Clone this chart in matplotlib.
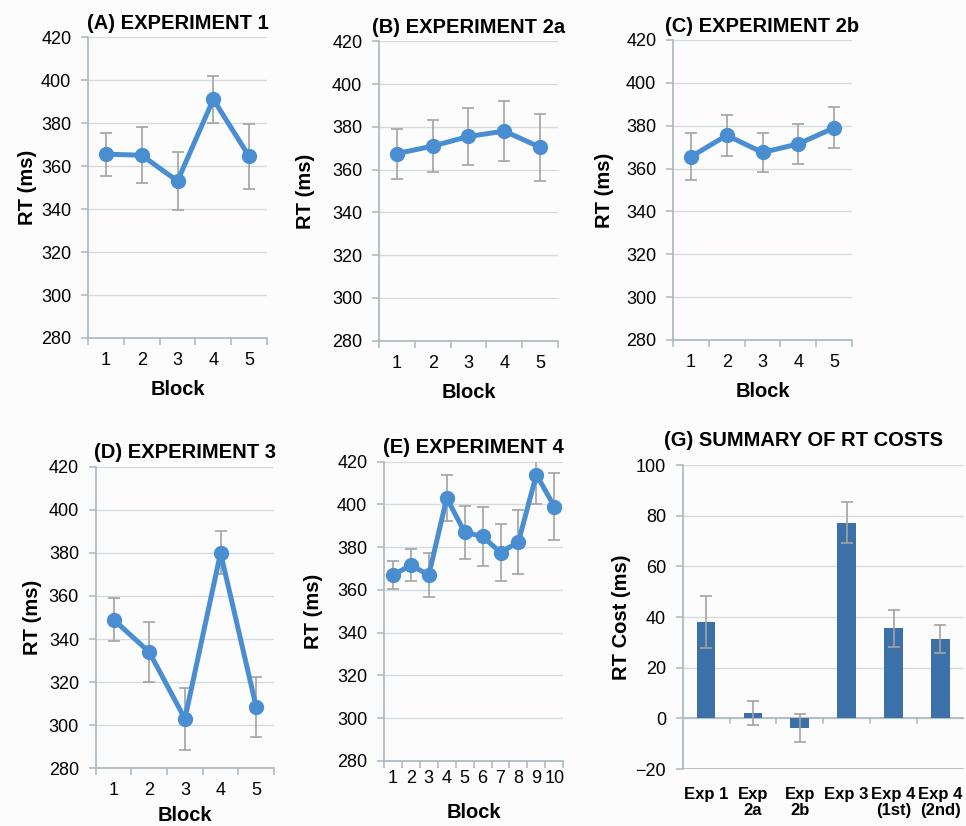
import matplotlib

matplotlib.use("Agg")
import matplotlib.pyplot as plt
import numpy as np

plt.rcParams["font.family"] = ["Liberation Sans", "DejaVu Sans"]

# --- data ---
exp1_rt = [365.5, 365.0, 353.0, 391.0, 364.5]
exp1_err = [10.0, 13.0, 13.5, 11.0, 15.0]

exp2a_rt = [367.5, 371.0, 375.5, 378.0, 370.5]
exp2a_err = [11.7, 12.0, 13.5, 14.0, 15.6]

exp2b_rt = [365.5, 375.5, 367.5, 371.5, 379.0]
exp2b_err = [11.0, 9.5, 9.0, 9.5, 9.5]

exp3_rt = [349.0, 334.0, 303.0, 380.0, 308.5]
exp3_err = [10.0, 14.0, 14.5, 10.0, 14.0]

exp4_rt = [367.0, 371.5, 367.0, 403.0, 387.0, 385.0, 377.5, 382.5, 414.0, 399.0]
exp4_err = [6.6, 7.5, 10.5, 10.7, 12.4, 13.6, 13.4, 14.9, 14.0, 15.7]

cost_labels = ["Exp 1", "Exp\n2a", "Exp\n2b", "Exp 3", "Exp 4\n(1st)", "Exp 4\n(2nd)"]
cost_values = [38.0, 2.2, -3.8, 77.3, 35.6, 31.4]
cost_err = [10.4, 4.8, 5.6, 8.0, 7.3, 5.6]

LINE_BLUE = "#4a8ed2"
BAR_BLUE = "#3c70a8"
ERR_GRAY = "#a3a3a3"
AXIS_COL = "#a9b7bd"
GRID_COL = "#d3dde0"
BG = "#fcfcfd"

fig = plt.figure(figsize=(9.66, 8.26), dpi=100, facecolor=BG)


def style_axes(ax):
    ax.set_facecolor(BG)
    for side in ("top", "right"):
        ax.spines[side].set_visible(False)
    for side in ("left", "bottom"):
        ax.spines[side].set_color(AXIS_COL)
        ax.spines[side].set_linewidth(1.2)
    ax.yaxis.grid(True, color=GRID_COL, linewidth=1.0)
    ax.set_axisbelow(True)
    ax.tick_params(axis="y", length=5, width=1.1, color=AXIS_COL,
                   labelsize=13, pad=7)
    ax.tick_params(axis="x", which="both", length=0, labelsize=13, pad=10)


def line_panel(rect, title, rt, err, ypad=10, labelpad=8):
    ax = fig.add_axes(rect)
    style_axes(ax)
    x = np.arange(1, len(rt) + 1)
    ax.errorbar(x, rt, yerr=err, fmt="none", ecolor=ERR_GRAY,
                elinewidth=1.2, capsize=4.5, capthick=1.2, zorder=2)
    ax.plot(x, rt, "-o", color=LINE_BLUE, lw=3.6, ms=10, zorder=3)
    ax.set_xlim(0.5, len(rt) + 0.5)
    ax.set_ylim(280, 420)
    ax.set_yticks(np.arange(280, 421, 20))
    ax.set_xticks(x)
    # category boundary ticks, Excel style
    ax.set_xticks(np.arange(0.5, len(rt) + 1, 1), minor=True)
    ax.tick_params(axis="x", which="minor", length=5, width=1.1,
                   color=AXIS_COL, direction="out")
    ax.set_title(title, fontsize=14.5, fontweight="bold", pad=6)
    ax.set_xlabel("Block", fontsize=14.5, fontweight="bold", labelpad=labelpad)
    ax.set_ylabel("RT (ms)", fontsize=14.5, fontweight="bold", labelpad=ypad)
    return ax


line_panel([0.0911, 0.5908, 0.1853, 0.3644], "(A) EXPERIMENT 1", exp1_rt, exp1_err, ypad=3)
line_panel([0.3923, 0.5875, 0.1853, 0.3625], "(B) EXPERIMENT 2a", exp2a_rt, exp2a_err, ypad=12)
line_panel([0.6967, 0.5884, 0.1853, 0.3632], "(C) EXPERIMENT 2b", exp2b_rt, exp2b_err, ypad=9)
line_panel([0.0991, 0.0698, 0.1846, 0.3652], "(D) EXPERIMENT 3", exp3_rt, exp3_err,
           ypad=5, labelpad=5)
ax_e = line_panel([0.3975, 0.0790, 0.1856, 0.3620], "(E) EXPERIMENT 4",
                  exp4_rt, exp4_err, labelpad=11)
ax_e.tick_params(axis="x", pad=7)

# --- (G) summary bar chart ---
ax_g = fig.add_axes([0.7067, 0.0690, 0.2910, 0.3680])
style_axes(ax_g)
xg = np.arange(len(cost_values))
ax_g.bar(xg, cost_values, width=0.4, color=BAR_BLUE, zorder=2)
ax_g.errorbar(xg, cost_values, yerr=cost_err, fmt="none", ecolor=ERR_GRAY,
              elinewidth=1.2, capsize=4.5, capthick=1.2, zorder=3)
ax_g.set_xlim(-0.5, len(cost_values) - 0.5)
ax_g.set_ylim(-20, 100)
ax_g.set_yticks(np.arange(-20, 101, 20))
ax_g.spines["bottom"].set_visible(False)
ax_g.axhline(0, color=AXIS_COL, lw=1.2, zorder=1)
ax_g.axhline(-20, color=AXIS_COL, lw=1.2, zorder=1)
for b in np.arange(0.5, len(cost_values) - 0.5, 1):
    ax_g.plot([b, b], [0, -1.8], color=AXIS_COL, lw=1.1, zorder=1)
ax_g.set_xticks(xg)
ax_g.set_xticklabels(cost_labels, fontsize=12, fontweight="bold",
                     linespacing=1.1, va="top")
ax_g.tick_params(axis="x", pad=13)
ax_g.set_title("(G) SUMMARY OF RT COSTS", fontsize=14.5, fontweight="bold",
               pad=14, x=0.43)
ax_g.set_ylabel("RT Cost (ms)", fontsize=14.5, fontweight="bold", labelpad=3)

fig.savefig("out.png", dpi=100, facecolor=BG)
